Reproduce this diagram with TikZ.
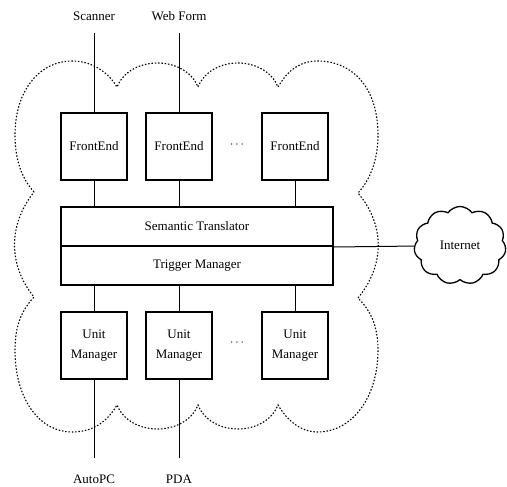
\documentclass[tikz,border=0pt]{standalone}
\usepackage{fontspec}
\setmainfont{Liberation Serif}
\usetikzlibrary{shapes.symbols}

\begin{document}
\begin{tikzpicture}[x=1pt, y=-1pt,
    font=\fontsize{13}{20}\selectfont,
    box/.style={draw, line width=2pt, minimum width=66pt, minimum height=67pt, inner sep=2pt, align=center},
    bar/.style={draw, line width=2pt, minimum width=272pt, minimum height=39pt, inner sep=0pt},
    conn/.style={line width=1pt},
    boundary/.style={line width=1.1pt, dash pattern=on 1.5pt off 1.8pt}]

    \useasboundingbox (0,0) rectangle (507,487);

    %-------------------------
    % Nuvola del sistema
    %-------------------------
    \draw[boundary]
    (34,192) .. controls (25,182) and (15,165) .. (15,135)
    .. controls (15,90) and (40,61) .. (72,61)
    .. controls (92,61) and (108,72) .. (117,87)
    .. controls (130,55) and (185,55) .. (198,87)
    .. controls (211,55) and (265,55) .. (278,87)
    .. controls (288,70) and (300,61) .. (318,61)
    .. controls (350,61) and (378,85) .. (378,135)
    .. controls (378,160) and (370,180) .. (358,193)
    .. controls (385,225) and (385,265) .. (358,298)
    .. controls (370,310) and (378,325) .. (378,350)
    .. controls (378,400) and (350,432) .. (318,432)
    .. controls (300,432) and (287,420) .. (278,405)
    .. controls (265,437) and (211,437) .. (198,405)
    .. controls (185,437) and (130,437) .. (117,405)
    .. controls (108,420) and (95,432) .. (72,432)
    .. controls (40,432) and (15,400) .. (15,350)
    .. controls (15,325) and (22,310) .. (34,297)
    .. controls (8,265) and (8,225) .. (34,192);

    %-------------------------
    % FrontEnd
    %-------------------------
    \node[box] (fe1) at (94,146.5) {FrontEnd};
    \node[box] (fe2) at (179,146.5) {FrontEnd};
    \node[box] (fe3) at (295,146.5) {FrontEnd};
    \node (fedots) at (237,145) {$\cdots$};

    % Ingressi
    \node (scanner) at (94,16) {Scanner};
    \node (webform) at (179,16) {Web Form};
    \coordinate (scantop) at (94,33);
    \coordinate (webtop) at (179,33);
    \draw[conn] (scantop) -- (fe1);
    \draw[conn] (webtop) -- (fe2);

    %-------------------------
    % Translator e Trigger
    %-------------------------
    \node[bar] (st) at (197,226.5) {Semantic Translator};
    \node[bar] (tm) at (197,265.5) {Trigger Manager};

    \draw[conn] (fe1) -- (fe1 |- st.north);
    \draw[conn] (fe2) -- (fe2 |- st.north);
    \draw[conn] (fe3) -- (fe3 |- st.north);

    %-------------------------
    % Unit Manager
    %-------------------------
    \node[box] (um1) at (94,345.5) {Unit\\Manager};
    \node[box] (um2) at (179,345.5) {Unit\\Manager};
    \node[box] (um3) at (295,345.5) {Unit\\Manager};
    \node (umdots) at (237,343) {$\cdots$};

    \draw[conn] (um1) -- (um1 |- tm.south);
    \draw[conn] (um2) -- (um2 |- tm.south);
    \draw[conn] (um3) -- (um3 |- tm.south);

    % Uscite
    \coordinate (autoend) at (94,458);
    \coordinate (pdaend) at (179,458);
    \draw[conn] (um1) -- (autoend);
    \draw[conn] (um2) -- (pdaend);
    \node (autopc) at (94,479) {AutoPC};
    \node (pda) at (179,479) {PDA};

    %-------------------------
    % Internet
    %-------------------------
    \node[cloud, draw, line width=1.3pt, cloud puffs=11, cloud puff arc=110,
          minimum width=92pt, minimum height=78pt, inner sep=0pt] (inet) at (460,245.5) {Internet};
    \draw[conn] (st.south east) -- (inet);

\end{tikzpicture}
\end{document}
